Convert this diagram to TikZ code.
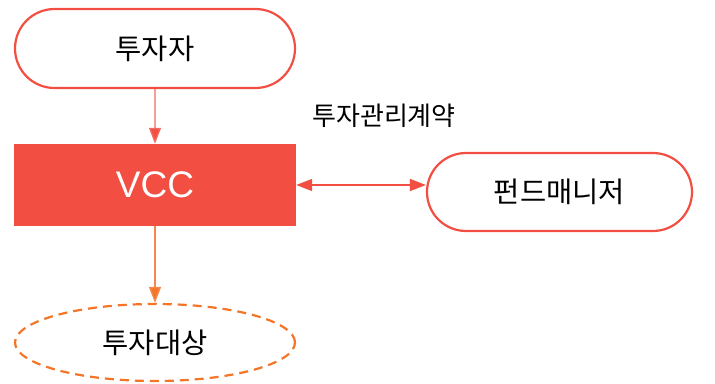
\documentclass[tikz,border=0pt]{standalone}
\usepackage{fontspec}
\setmainfont{Liberation Sans}
\newfontfamily\kr{Noto Sans CJK KR}
\usetikzlibrary{shapes.geometric,shapes.misc,arrows.meta}
\definecolor{cred}{HTML}{F24E42}
\definecolor{cpink}{HTML}{F26A62}
\definecolor{corange}{HTML}{F47528}
\definecolor{corangel}{HTML}{F5884A}
\tikzset{
  pill/.style={rounded rectangle, draw=cred, line width=2.2pt, minimum width=280pt, minimum height=79pt, inner sep=0pt, font=\kr\fontsize{28.5}{34}\selectfont},
  mainbox/.style={rectangle, fill=cred, minimum width=282pt, minimum height=82pt, inner sep=0pt, text=white, font=\fontsize{37}{44}\selectfont},
  target/.style={ellipse, draw=corange, line width=2.2pt, dash pattern=on 9pt off 6pt, minimum width=280pt, minimum height=77pt, inner sep=0pt, font=\kr\fontsize{28.5}{34}\selectfont},
  arr/.style={line width=1.4pt},
}
\begin{document}
\begin{tikzpicture}[x=1pt,y=-1pt]
\useasboundingbox (0,0) rectangle (715,383);
\node[pill] (inv) at (155,48.5) {투자자};
\node[mainbox] (vcc) at (155,185) {VCC};
\node[pill, minimum width=265pt, minimum height=78pt] (fm) at (559.5,192) {펀드매니저};
\node[target] (tgt) at (155,342.5) {투자대상};
\node[font=\kr\fontsize{26}{31}\selectfont] (lbl) at (384,116) {투자관리계약};
\draw[arr, draw=cpink, -{Triangle[length=16pt,width=12pt,fill=cred]}] (inv) -- (vcc);
\draw[arr, draw=corangel, -{Triangle[length=16pt,width=12pt,fill=corange]}] (vcc) -- (tgt);
\coordinate (fl) at (fm.west |- 0,185);
\draw[arr, draw=cred, {Triangle[length=16pt,width=12pt]}-{Triangle[length=16pt,width=12pt]}] (vcc.east |- fl) -- (fl);
\end{tikzpicture}
\end{document}
